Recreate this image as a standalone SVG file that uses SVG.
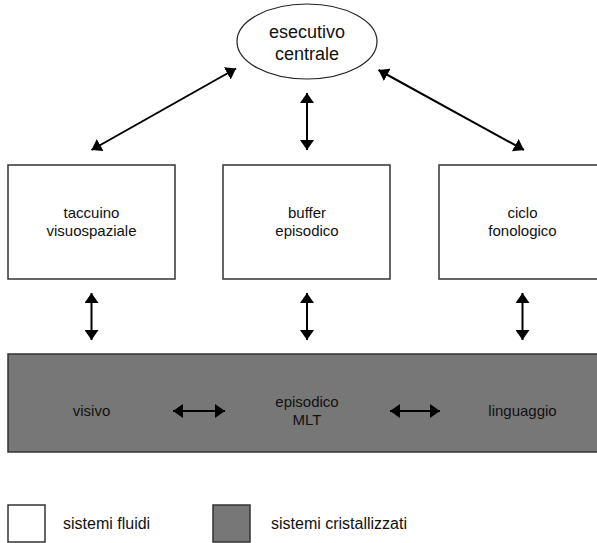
<svg xmlns="http://www.w3.org/2000/svg" width="597" height="543" viewBox="0 0 597 543">
  <style>
    text { font-family: "Liberation Sans", Arial, sans-serif; fill: #111; text-anchor: middle; }
    .box { fill: #fff; stroke: #333; stroke-width: 1.5; }
    .mlt { fill: #777; stroke: #333; stroke-width: 1.5; }
    .lbl { font-size: 15px; }
    .big { font-size: 18px; }
    .leg { font-size: 16px; text-anchor: start; }
    .arr { stroke: #000; stroke-width: 2; fill: none; marker-start: url(#head); marker-end: url(#head); }
  </style>
  <defs>
    <marker id="head" viewBox="0 0 10 14" refX="10" refY="7" markerWidth="10" markerHeight="14" markerUnits="userSpaceOnUse" orient="auto-start-reverse">
      <path d="M0,0 L10,7 L0,14 z" fill="#000"/>
    </marker>
  </defs>

  <rect width="597" height="543" fill="#fff"/>

  <g id="esecutivo-centrale">
    <ellipse cx="307" cy="41.5" rx="70" ry="37.5" fill="#fff" stroke="#222" stroke-width="1.2"/>
    <text class="big" x="307" y="38">esecutivo</text>
    <text class="big" x="307" y="59.5">centrale</text>
  </g>

  <g id="taccuino-visuospaziale">
    <rect class="box" x="8" y="165" width="167" height="114"/>
    <text class="lbl" x="91.5" y="218">taccuino</text>
    <text class="lbl" x="91.5" y="236">visuospaziale</text>
  </g>

  <g id="buffer-episodico">
    <rect class="box" x="223" y="165" width="167" height="114"/>
    <text class="lbl" x="307" y="218">buffer</text>
    <text class="lbl" x="307" y="236">episodico</text>
  </g>

  <g id="ciclo-fonologico">
    <rect class="box" x="439" y="165" width="167" height="114"/>
    <text class="lbl" x="522.5" y="218">ciclo</text>
    <text class="lbl" x="522.5" y="236">fonologico</text>
  </g>

  <g id="mlt">
    <rect class="mlt" x="8" y="354" width="598" height="98"/>
    <text class="lbl" x="91.5" y="416">visivo</text>
    <text class="lbl" x="307" y="407">episodico</text>
    <text class="lbl" x="307" y="425">MLT</text>
    <text class="lbl" x="522.5" y="416">linguaggio</text>
  </g>

  <g id="connectors">
    <line class="arr" x1="236" y1="68.5" x2="91.5" y2="150"/>
    <line class="arr" x1="307" y1="93" x2="307" y2="150"/>
    <line class="arr" x1="378.5" y1="70" x2="524" y2="150"/>
    <line class="arr" x1="91.5" y1="293" x2="91.5" y2="340"/>
    <line class="arr" x1="307" y1="293" x2="307" y2="340"/>
    <line class="arr" x1="522.5" y1="293" x2="522.5" y2="340"/>
    <line class="arr" x1="173" y1="411" x2="225" y2="411"/>
    <line class="arr" x1="390" y1="411" x2="440" y2="411"/>
  </g>

  <g id="legend">
    <rect class="box" x="8" y="505" width="37" height="37"/>
    <text class="leg" x="63" y="529">sistemi fluidi</text>
    <rect class="mlt" x="213" y="505" width="37" height="37"/>
    <text class="leg" x="271" y="529">sistemi cristallizzati</text>
  </g>
</svg>
